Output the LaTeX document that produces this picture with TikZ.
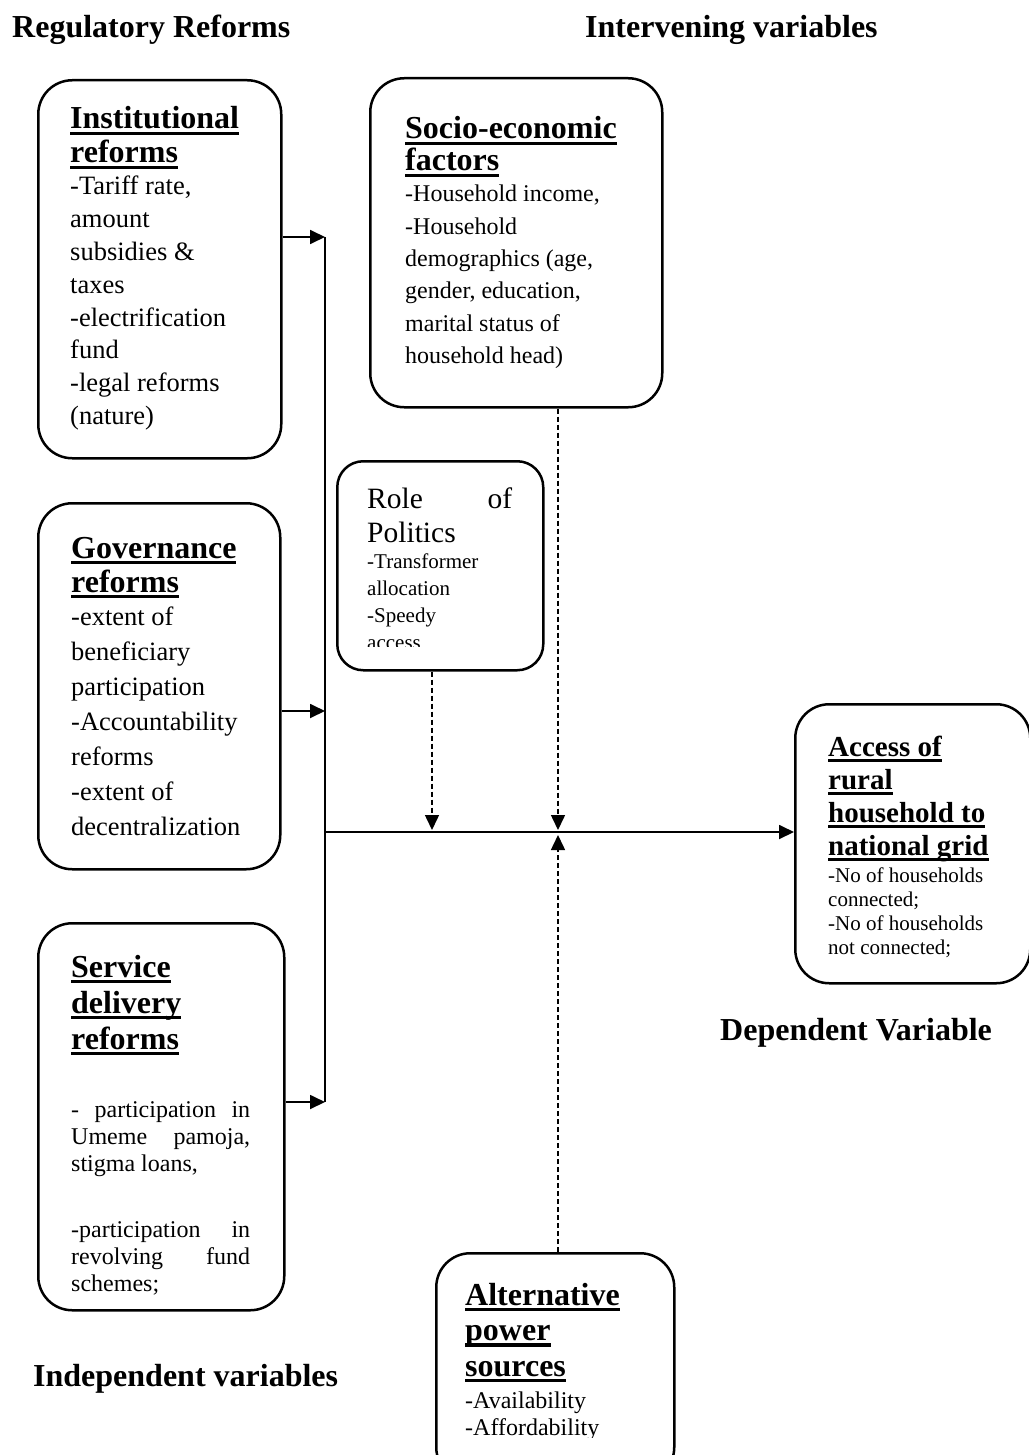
\documentclass[tikz,border=0pt]{standalone}
\usepackage{fontspec}
\setmainfont{Liberation Serif}
\usetikzlibrary{arrows.meta}
\newcommand\ulb[1]{\leavevmode\setbox0\hbox{#1}\rlap{\rule[-6pt]{\wd0}{3.3pt}}\box0}
\newcommand\tb[4]{\begin{minipage}[t]{#1pt}\fontsize{#2}{#3}\selectfont\lineskiplimit=-100pt\parindent0pt\parskip0pt #4\end{minipage}}
\tikzset{
  box/.style={draw, line width=2.5pt, rounded corners=34pt, inner sep=0pt, anchor=north west},
  txt/.style={inner sep=0pt, anchor=base west},
  conn/.style={line width=1.8pt},
  arr/.style={line width=1.8pt, -{Triangle[length=15pt,width=14pt]}},
  darr/.style={line width=1.5pt, dash pattern=on 5pt off 3pt, -{Triangle[length=15pt,width=14pt]}},
  title/.style={txt, font=\fontsize{32}{36}\selectfont\bfseries}
}
\begin{document}
\begin{tikzpicture}[x=1pt,y=-1pt]
\useasboundingbox (0,0) rectangle (1028,1455);
% titles
\node[title] (tReg) at (12,38) {Regulatory Reforms};
\node[title] (tInt) at (585,38) {Intervening variables};
\node[title] (tDep) at (720,1040) {Dependent Variable};
\node[title] (tInd) at (33,1386) {Independent variables};
% boxes
\node[box, minimum width=243pt, minimum height=378pt] (inst) at (37,79) {};
\node[box, minimum width=242pt, minimum height=366pt] (gov) at (37,502) {};
\node[box, minimum width=246pt, minimum height=387pt] (serv) at (37,922) {};
\node[box, minimum width=292pt, minimum height=329pt] (socio) at (369,77) {};
\node[box, rounded corners=26pt, minimum width=206pt, minimum height=209pt] (role) at (336,460) {};
\node[box, minimum width=235pt, minimum height=279pt] (access) at (794,703) {};
\node[box, minimum width=238pt, minimum height=228pt] (alt) at (435,1252) {};
% texts
\node[txt] (instH) at (70,129) {\tb{220}{32}{34}{\bfseries\ulb{Institutional}\par\ulb{reforms}}};
\node[txt] (instB) at (70,195) {\tb{210}{26.5}{32.8}{-Tariff rate,\par amount\par subsidies \&\par taxes\par -electrification\par fund\par -legal reforms\par (nature)}};
\node[txt] (govH) at (71,558) {\tb{220}{32}{34}{\bfseries\ulb{Governance}\par\ulb{reforms}}};
\node[txt] (govB) at (71,625) {\tb{210}{26.5}{35}{-extent of\par beneficiary\par participation\par -Accountability\par reforms\par -extent of\par decentralization}};
\node[txt] (servH) at (71,977) {\tb{200}{32}{36}{\bfseries\ulb{Service}\par\ulb{delivery}\par\ulb{reforms}}};
\node[txt] (servB) at (71,1117) {\tb{179}{24}{27}{-\hfill participation\hfill in\par Umeme\hfill pamoja,\par stigma loans,\par\vspace{39pt}-participation\hfill in\par revolving\hfill fund\par schemes;}};
\node[txt] (socioH) at (405,139) {\tb{250}{32}{32}{\bfseries\ulb{Socio-economic}\par\ulb{factors}}};
\node[txt] (socioB) at (405,202) {\tb{250}{24}{32.3}{-Household income,\par -Household\par demographics (age,\par gender, education,\par marital status of\par household head)}};
\node[txt] (roleH) at (367,508) {\tb{145}{29.5}{34}{Role\hfill of\par Politics}};
\begin{scope}
\clip (336,540) rectangle (542,646);
\node[txt] (roleB) at (367,568) {\tb{170}{21}{27}{-Transformer\par allocation\par -Speedy\par access}};
\end{scope}
\node[txt] (accH) at (828,756) {\tb{200}{29}{33}{\bfseries\ulb{Access of}\par\ulb{rural}\par\ulb{household to}\par\ulb{national grid}}};
\node[txt] (accB) at (828,882) {\tb{200}{21}{24}{-No of households\par connected;\par -No of households\par not connected;}};
\node[txt] (altH) at (465,1305) {\tb{200}{32}{35.5}{\bfseries\ulb{Alternative}\par\ulb{power}\par\ulb{sources}}};
\begin{scope}
\clip (440,1380) rectangle (670,1437);
\node[txt] (altB) at (465,1408) {\tb{200}{24}{27}{-Availability\par -Affordability}};
\end{scope}
% connectors
\coordinate (j1) at (325,237);
\coordinate (j2) at (325,711);
\coordinate (j3) at (325,1102);
\coordinate (jm) at (325,832);
\coordinate (d1) at (432,830);
\coordinate (d2) at (558,830);
\coordinate (d3) at (558,835);
\draw[conn] (j1) -- (j3);
\draw[arr] (inst.east |- j1) -- (j1);
\draw[arr] (gov.east |- j2) -- (j2);
\draw[arr] (serv.east |- j3) -- (j3);
\draw[arr] (jm) -- (access.west |- jm);
\draw[darr] (d1 |- role.south) -- (d1);
\draw[darr] (d2 |- socio.south) -- (d2);
\draw[darr] (d3 |- alt.north) -- (d3);
\end{tikzpicture}
\end{document}
